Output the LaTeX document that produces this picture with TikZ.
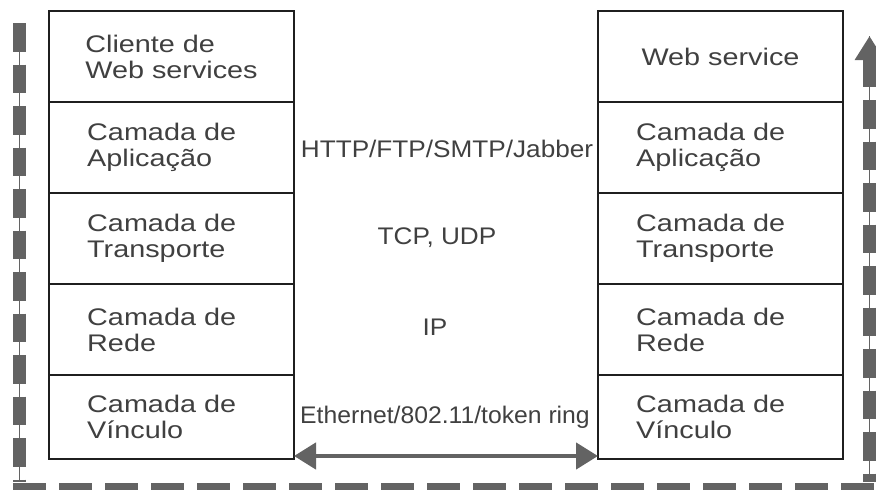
\documentclass[tikz,border=0pt]{standalone}
\usepackage{fontspec}
\setmainfont{Liberation Sans}
\newfontfamily\boxfont[FakeStretch=1.2]{Liberation Sans}
\newfontfamily\protofont[FakeStretch=1.09]{Liberation Sans}
\newfontfamily\linkfont[FakeStretch=1.03]{Liberation Sans}
\usetikzlibrary{arrows.meta,positioning}
\definecolor{txtgray}{HTML}{404040}
\definecolor{railgray}{HTML}{636363}

\begin{document}
\begin{tikzpicture}[x=1pt,y=-1pt,
    layer/.style={draw=black!88,line width=1.6pt,minimum width=245pt,minimum height=91pt,inner sep=0pt,outer sep=0pt},
    lbl/.style={text=txtgray,font=\boxfont\fontsize{24}{26}\selectfont,align=left,inner sep=0pt},
    proto/.style={text=txtgray,font=\protofont\fontsize{24}{26}\selectfont,inner sep=0pt,anchor=base},
    rail/.style={railgray,line width=13pt,dash pattern=on 28.5pt off 13pt},
    wire/.style={railgray,line width=1.5pt},
    link/.style={railgray,line width=4.5pt,{Triangle[length=22pt,width=26pt]}-{Triangle[length=22pt,width=26pt]}}]

      \useasboundingbox (0,0) rectangle (876,490);

      % client stack
      \node[layer,anchor=north west] (l1) at (49,11) {};
      \node[layer]                   (l2) [below=0pt of l1] {};
      \node[layer]                   (l3) [below=0pt of l2] {};
      \node[layer]                   (l4) [below=0pt of l3] {};
      \node[layer,minimum height=84pt] (l5) [below=0pt of l4] {};

      % server stack
      \node[layer,anchor=north west] (r1) at (598,11) {};
      \node[layer]                   (r2) [below=0pt of r1] {};
      \node[layer]                   (r3) [below=0pt of r2] {};
      \node[layer]                   (r4) [below=0pt of r3] {};
      \node[layer,minimum height=84pt] (r5) [below=0pt of r4] {};

      \node[lbl]             (tl1) at (l1) {Cliente de\\Web services};
      \node[lbl,anchor=west] (tl2) at ([xshift=38pt]l2.west) {Camada de\\Aplicação};
      \node[lbl,anchor=west] (tl3) at ([xshift=38pt]l3.west) {Camada de\\Transporte};
      \node[lbl,anchor=west] (tl4) at ([xshift=38pt]l4.west) {Camada de\\Rede};
      \node[lbl,anchor=west] (tl5) at ([xshift=38pt]l5.west) {Camada de\\Vínculo};

      \node[lbl]             (tr1) at (r1) {Web service};
      \node[lbl,anchor=west] (tr2) at ([xshift=38pt]r2.west) {Camada de\\Aplicação};
      \node[lbl,anchor=west] (tr3) at ([xshift=38pt]r3.west) {Camada de\\Transporte};
      \node[lbl,anchor=west] (tr4) at ([xshift=38pt]r4.west) {Camada de\\Rede};
      \node[lbl,anchor=west] (tr5) at ([xshift=38pt]r5.west) {Camada de\\Vínculo};

      % protocols between the stacks
      \node[proto] (app)  at (447,157) {HTTP/FTP/SMTP/Jabber};
      \node[proto] (tcp)  at (437,244) {TCP, UDP};
      \node[proto] (ip)   at (435,335) {IP};
      \node[proto,font=\linkfont\fontsize{24}{26}\selectfont] (link) at (445,423) {Ethernet/802.11/token ring};

      \draw[link] ([yshift=3pt]l5.south east) -- ([yshift=3pt]r5.south west);

      % data path down and up
      \coordinate (railtl) at (19.5,23);
      \coordinate (railbl) at (19.5,482);
      \coordinate (railbs) at (13,489);
      \coordinate (railbe) at (876,489);
      \coordinate (railbr) at (869.5,482);
      \coordinate (railtr) at (869.5,36);

      \draw[wire] (railtl) -- (railbl);
      \draw[wire] (railtr) -- (railbr);
      \draw[rail] (railtl) -- (railbl);
      \draw[rail,dash pattern=on 33pt off 13pt] (railbs) -- (railbe);
      \draw[rail,{Triangle[length=24pt,width=28pt]}-] (railtr) -- (railbr);
\end{tikzpicture}
\end{document}
